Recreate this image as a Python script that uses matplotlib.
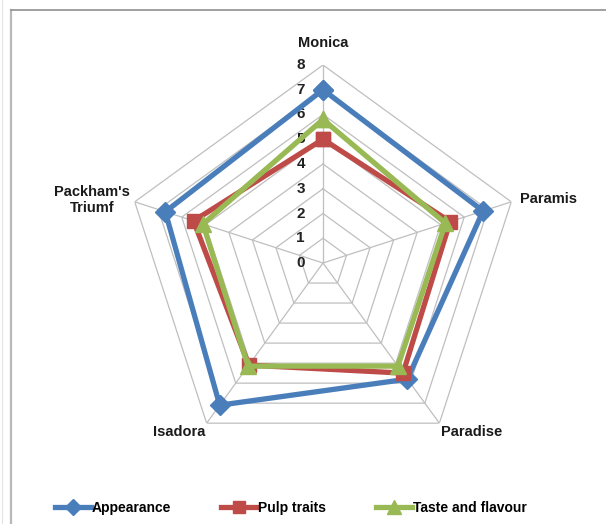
import matplotlib.pyplot as plt
import numpy as np
from matplotlib.lines import Line2D
from matplotlib.transforms import offset_copy

plt.rcParams['font.family'] = ['Liberation Sans', 'DejaVu Sans']

categories = ["Monica", "Paramis", "Paradise", "Isadora", "Packham's\nTriumf"]
appearance = [7.0, 6.8, 5.8, 7.1, 6.7]
pulp_traits = [5.0, 5.4, 5.5, 5.1, 5.5]
taste_flavour = [5.8, 5.2, 5.15, 5.15, 5.1]
radial_ticks = [0, 1, 2, 3, 4, 5, 6, 7, 8]

series = [
    ("Appearance", appearance, "#4a7ebb", "D", 10),
    ("Pulp traits", pulp_traits, "#be4b48", "s", 10),
    ("Taste and flavour", taste_flavour, "#98b954", "^", 12),
]

W, H = 606, 524
fig = plt.figure(figsize=(W / 100, H / 100), dpi=100)
fig.patch.set_facecolor("white")

# outer chart border (left + top)
fig.add_artist(Line2D([11 / W, 11 / W], [0, 1 - 10 / H], color="#b8b8b8", lw=1.6))
fig.add_artist(Line2D([11 / W, 1], [1 - 10 / H, 1 - 10 / H], color="#909090", lw=1.2))
fig.add_artist(Line2D([2 / W, 2 / W], [0, 1], color="#e4e4e4", lw=0.8))

cx, cy, R = 323, 263, 198
ax = fig.add_axes([(cx - R) / W, (H - cy - R) / H, 2 * R / W, 2 * R / H], projection="polar")
ax.set_theta_offset(np.pi / 2)
ax.set_theta_direction(-1)
ax.set_ylim(0, 8)
ax.grid(False)
ax.spines["polar"].set_visible(False)
ax.set_xticks([])
ax.set_yticks([])

n = len(categories)
angles = np.linspace(0, 2 * np.pi, n, endpoint=False)
closed = np.append(angles, angles[0])

# pentagon grid
for r in radial_ticks[1:]:
    ax.plot(closed, [r] * (n + 1), color="#bfbfbf", lw=0.9, zorder=1)
for a in angles:
    ax.plot([a, a], [0, 8], color="#bfbfbf", lw=0.9, zorder=1)

# radial tick labels on the Monica axis
tick_tr = offset_copy(ax.transData, fig=fig, x=-13, y=0, units="points")
for r in radial_ticks:
    ax.text(0, r, str(r), transform=tick_tr, ha="right", va="center",
            fontsize=11, fontweight="bold", color="#222222")

for name, vals, color, marker, ms in series:
    v = vals + vals[:1]
    ax.plot(closed, v, color=color, lw=3.8, marker=marker, markersize=ms,
            markeredgecolor=color, markerfacecolor=color, label=name, zorder=3,
            solid_joinstyle="miter", clip_on=False)

# category labels
label_pos = [
    (8.6, "center", "bottom"),
    (8.35, "left", "center"),
    (8.1, "left", "top"),
    (8.1, "right", "top"),
    (8.2, "right", "center"),
]
for a, cat, (r, ha, va) in zip(angles, categories, label_pos):
    ax.text(a, r, cat, ha=ha, va=va, fontsize=10.5, fontweight="bold",
            color="#1a1a1a", multialignment="center", linespacing=1.2)

handles = [
    Line2D([0], [0], color=c, lw=3.8, marker=m, markersize=ms * 0.85,
           markerfacecolor=c, markeredgecolor=c)
    for _, _, c, m, ms in series
]
fig.legend(handles, [s[0] for s in series], loc="center", bbox_to_anchor=(0.48, 1 - 508 / H),
           ncol=3, frameon=False, handlelength=2.6, handletextpad=0.05, columnspacing=3.6,
           prop={"size": 10, "weight": "bold"})

fig.savefig("out.png", dpi=100)
